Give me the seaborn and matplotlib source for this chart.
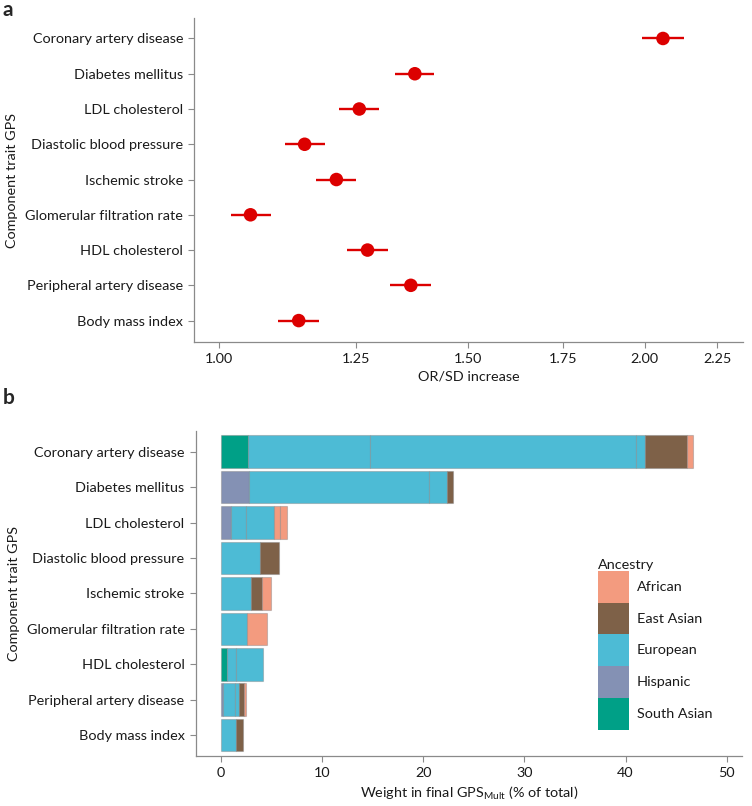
import numpy as np
import pandas as pd
import matplotlib
matplotlib.use("Agg")
import matplotlib.pyplot as plt
import seaborn as sns
from matplotlib.patches import Patch
from matplotlib.ticker import NullLocator

sns.set_theme(style="ticks")
plt.rcParams['font.family'] = ['Lato', 'DejaVu Sans']

traits = ["Coronary artery disease", "Diabetes mellitus", "LDL cholesterol",
          "Diastolic blood pressure", "Ischemic stroke", "Glomerular filtration rate",
          "HDL cholesterol", "Peripheral artery disease", "Body mass index"]

# panel a: OR per SD increase with 95% CI
or_sd = [2.060, 1.375, 1.256, 1.149, 1.210, 1.052, 1.273, 1.366, 1.138]
or_lo = [1.991, 1.332, 1.215, 1.112, 1.171, 1.019, 1.232, 1.321, 1.101]
or_hi = [2.133, 1.419, 1.298, 1.188, 1.250, 1.087, 1.316, 1.411, 1.176]
or_ticks = [1.00, 1.25, 1.50, 1.75, 2.00, 2.25]

# panel b: weight segments (one per source GWAS), in stacking order
seg_trait = (["Coronary artery disease"] * 6 + ["Diabetes mellitus"] * 4 +
             ["LDL cholesterol"] * 5 + ["Diastolic blood pressure"] * 2 +
             ["Ischemic stroke"] * 3 + ["Glomerular filtration rate"] * 2 +
             ["HDL cholesterol"] * 3 + ["Peripheral artery disease"] * 5 +
             ["Body mass index"] * 2)
seg_ancestry = ["South Asian", "European", "European", "European", "East Asian", "African",
                "Hispanic", "European", "European", "East Asian",
                "Hispanic", "European", "European", "African", "African",
                "European", "East Asian",
                "European", "East Asian", "African",
                "European", "African",
                "South Asian", "European", "European",
                "Hispanic", "European", "European", "East Asian", "African",
                "European", "East Asian"]
seg_weight = [2.65, 12.05, 26.30, 0.95, 4.10, 0.60,
              2.75, 17.85, 1.75, 0.55,
              0.98, 1.48, 2.77, 0.59, 0.69,
              3.84, 1.94,
              3.02, 1.02, 0.95,
              2.59, 1.94,
              0.58, 0.92, 2.64,
              0.19, 1.24, 0.40, 0.43, 0.23,
              1.47, 0.69]
weight_ticks = [0, 10, 20, 30, 40, 50]

ancestries = ["African", "East Asian", "European", "Hispanic", "South Asian"]
anc_colors = ["#F39B7F", "#7E6148", "#4DBBD5", "#8491B4", "#00A087"]
palette = dict(zip(ancestries, anc_colors))

RED = "#DC0000"
SPINE = "#8a8a8a"
TXT = "#1a1a1a"
FS = 10.4

fig = plt.figure(figsize=(7.52, 8.06), dpi=100)
ax_a = fig.add_axes([0.2584, 0.576, 0.729, 0.4012])
ax_b = fig.add_axes([0.2602, 0.062, 0.7265, 0.4036])


def style_axis(ax):
    sns.despine(ax=ax)
    for s in ["left", "bottom"]:
        ax.spines[s].set_color(SPINE)
        ax.spines[s].set_linewidth(0.9)
    ax.tick_params(axis="both", colors=SPINE, labelcolor=TXT, labelsize=FS,
                   length=4.5, width=0.8)
    ax.tick_params(axis="y", pad=3.5)
    ax.tick_params(axis="x", pad=3.5)


# -------------------------------
# a: OR/SD forest plot
# -------------------------------
df_a = pd.DataFrame({"trait": traits, "row": np.arange(len(traits)),
                     "or": or_sd, "lo": or_lo, "hi": or_hi})
ax_a.set_xscale("log")
ax_a.hlines(df_a["row"], df_a["lo"], df_a["hi"], color=RED, lw=1.7, zorder=2)
sns.scatterplot(data=df_a, x="or", y="row", ax=ax_a, color=RED, s=95,
                edgecolor="none", zorder=3, legend=False)
ax_a.set_xlim(0.96, 2.345)
ax_a.set_ylim(8.6, -0.57)
ax_a.set_xticks(or_ticks)
ax_a.set_xticklabels([f"{t:.2f}" for t in or_ticks])
ax_a.xaxis.set_minor_locator(NullLocator())
ax_a.set_yticks(df_a["row"])
ax_a.set_yticklabels(traits)
ax_a.set_xlabel("OR/SD increase", fontsize=FS, color=TXT, labelpad=4)
ax_a.set_ylabel("Component trait GPS", fontsize=FS, color=TXT, labelpad=5)
style_axis(ax_a)

# -------------------------------
# b: stacked weights by ancestry
# -------------------------------
df_b = pd.DataFrame({"trait": seg_trait, "ancestry": seg_ancestry, "weight": seg_weight})
df_b["row"] = df_b["trait"].map({t: i for i, t in enumerate(traits)})
df_b["left"] = df_b.groupby("trait")["weight"].cumsum() - df_b["weight"]
ax_b.barh(df_b["row"], df_b["weight"], left=df_b["left"], height=0.92,
          color=df_b["ancestry"].map(palette),
          edgecolor=(0.5, 0.5, 0.5, 0.4), linewidth=0.8)
ax_b.set_xlim(-2.48, 51.5)
ax_b.set_ylim(8.59, -0.59)
ax_b.set_xticks(weight_ticks)
ax_b.set_yticks(range(len(traits)))
ax_b.set_yticklabels(traits)
ax_b.set_xlabel(r"Weight in final GPS$_{\mathregular{Mult}}$ (% of total)",
                fontsize=FS, color=TXT, labelpad=4)
ax_b.set_ylabel("Component trait GPS", fontsize=FS, color=TXT, labelpad=5)
style_axis(ax_b)

handles = [Patch(facecolor=palette[a], edgecolor="none", label=a) for a in ancestries]
leg = fig.legend(handles=handles, title="Ancestry", loc="upper left",
                 bbox_to_anchor=(597.7 / 752, 1 - 559 / 806), frameon=False,
                 fontsize=FS, title_fontsize=FS, handlelength=2.15,
                 handleheight=3.0, labelspacing=0, handletextpad=0.55,
                 borderpad=0, borderaxespad=0, alignment="left")
for t in leg.get_texts():
    t.set_color(TXT)
leg.get_title().set_color(TXT)

fig.text(0.003, 0.988, "a", fontsize=15, fontweight="bold", va="center", ha="left")
fig.text(0.003, 1 - 398 / 806, "b", fontsize=15, fontweight="bold", va="center", ha="left")

fig.savefig("out.png", dpi=100)
